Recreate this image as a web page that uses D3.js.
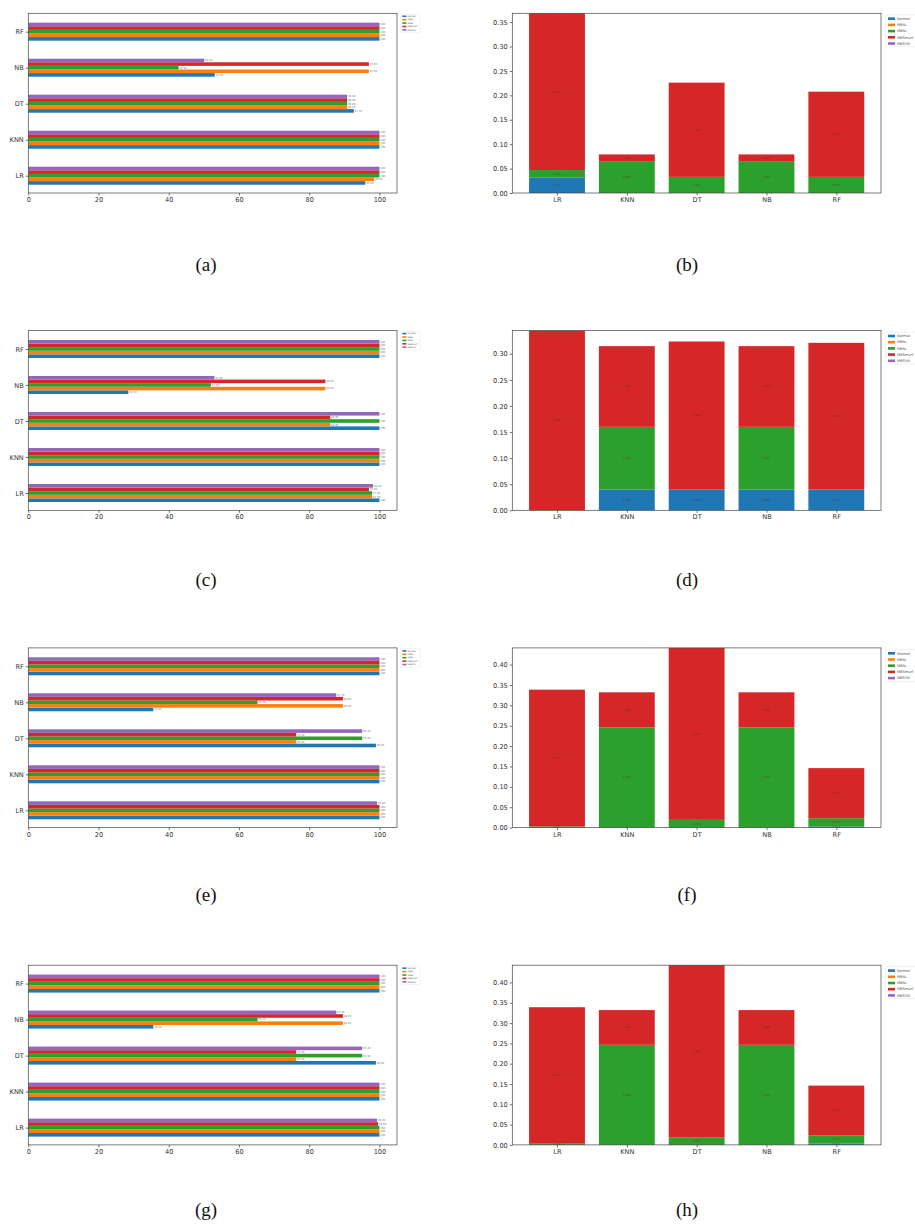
<!DOCTYPE html>
<html>
<head>
<meta charset="utf-8">
<script src="https://cdn.jsdelivr.net/npm/d3@7"></script>
<style>
  body { margin: 0; background: #fff; }
  svg { display: block; }
</style>
</head>
<body>
<svg id="fig" width="915" height="1226"></svg>
<script>
// ---- data -------------------------------------------------------------
const models = ["LR", "KNN", "DT", "NB", "RF"];
const seriesNames = ["Normal", "MBN\u2081", "MBN\u2082", "MBSmurf", "MBSYN"];
const seriesColors = ["#1f77b4", "#ff7f0e", "#2ca02c", "#d62728", "#9467bd"];
const accTicks = [0, 20, 40, 60, 80, 100];
const captionsLeft = ["(a)", "(c)", "(e)", "(g)"];
const captionsRight = ["(b)", "(d)", "(f)", "(h)"];

// accuracy (%) per series; each row follows the model order LR, KNN, DT, NB, RF
const accA = [
  [96.0, 100, 92.7, 53.1, 100],
  [98.5, 100, 90.8, 97.0, 100],
  [100, 100, 90.8, 42.8, 100],
  [100, 100, 90.8, 97.0, 100],
  [100, 100, 90.8, 50.1, 100]
];
const accC = [
  [100, 100, 100, 28.5, 100],
  [97.9, 100, 86.0, 84.6, 100],
  [97.9, 100, 100, 52.0, 100],
  [97.0, 100, 86.0, 84.6, 100],
  [98.2, 100, 100, 53.0, 100]
];
const accE = [
  [100, 100, 99.0, 35.6, 100],
  [100, 100, 76.3, 89.6, 100],
  [100, 100, 95.1, 65.3, 100],
  [100, 100, 76.3, 89.6, 100],
  [99.3, 100, 95.1, 87.7, 100]
];
const accG = [
  [100, 100, 99.0, 35.6, 100],
  [100, 100, 76.3, 89.6, 100],
  [100, 100, 95.1, 65.3, 100],
  [99.6, 100, 76.3, 89.6, 100],
  [99.3, 100, 95.1, 87.7, 100]
];

// error-rate contribution per series (stacked), same model order
const errB = [
  [0.032, 0, 0, 0, 0],
  [0, 0, 0, 0, 0],
  [0.015, 0.064, 0.033, 0.064, 0.033],
  [0.321, 0.015, 0.193, 0.015, 0.1745],
  [0, 0, 0, 0, 0]
];
const errD = [
  [0, 0.040, 0.040, 0.040, 0.040],
  [0, 0, 0, 0, 0],
  [0, 0.120, 0, 0.120, 0],
  [0.3445, 0.1547, 0.2836, 0.1547, 0.281],
  [0, 0, 0, 0, 0]
];
const errF = [
  [0, 0, 0, 0, 0.003],
  [0, 0, 0, 0, 0],
  [0.003, 0.246, 0.019, 0.246, 0.020],
  [0.3355, 0.086, 0.422, 0.086, 0.123],
  [0, 0, 0, 0, 0]
];
const errH = [
  [0, 0, 0, 0, 0.003],
  [0, 0, 0, 0, 0],
  [0.003, 0.2465, 0.018, 0.2465, 0.0207],
  [0.336, 0.0855, 0.4245, 0.0855, 0.1223],
  [0, 0, 0, 0, 0]
];

const leftPanels = [accA, accC, accE, accG];
const rightPanels = [errB, errD, errF, errH];

// ---- layout -----------------------------------------------------------
const rowTops = [13.3, 330.6, 647.9, 965.2];
const axH = 179.7;
const L = { x0: 28.3, x1: 397 };
const R = { x0: 512.3, x1: 881 };
const capCx = [206, 687];
const capCy = [264, 579, 894, 1209];

const svg = d3.select("#fig");
const fmtVal = v => (v === 100 ? "100" : d3.format(".2f")(v));

function styleAxis(g, size) {
  g.select(".domain").remove();
  g.selectAll(".tick line").attr("stroke", "#333").attr("stroke-width", 0.7);
  g.selectAll(".tick text")
    .attr("fill", "#333")
    .style("font-family", "'DejaVu Sans', sans-serif")
    .style("font-size", size + "px");
}

function drawAccuracy(data, top) {
  const g = svg.append("g");
  const x = d3.scaleLinear().domain([0, 105]).range([L.x0, L.x1]);
  const y = d3.scaleLinear().domain([-0.48, 4.51]).range([top + axH, top]);
  const bh = 0.1;

  data.forEach((row, s) => {
    row.forEach((v, m) => {
      const c = m - 0.2 + s * bh;
      g.append("rect")
        .attr("x", x(0))
        .attr("y", y(c + bh / 2))
        .attr("width", x(v) - x(0))
        .attr("height", y(c - bh / 2) - y(c + bh / 2))
        .attr("fill", seriesColors[s]);
      g.append("text")
        .attr("x", x(v) + 0.8)
        .attr("y", y(c))
        .attr("dy", "0.35em")
        .attr("fill", "#777")
        .style("font-family", "'DejaVu Sans', sans-serif")
        .style("font-size", "2.6px")
        .text(fmtVal(v));
    });
  });

  g.append("g")
    .attr("transform", `translate(0,${top + axH})`)
    .call(d3.axisBottom(x).tickValues(accTicks).tickSize(2.5).tickPadding(2))
    .call(a => styleAxis(a, 6.6));
  g.append("g")
    .attr("transform", `translate(${L.x0},0)`)
    .call(d3.axisLeft(y).tickValues(d3.range(models.length))
      .tickFormat(i => models[i]).tickSize(2.5).tickPadding(2))
    .call(a => styleAxis(a, 6.6));

  g.append("rect")
    .attr("x", L.x0).attr("y", top)
    .attr("width", L.x1 - L.x0).attr("height", axH)
    .attr("fill", "none").attr("stroke", "#444").attr("stroke-width", 0.7);

  // legend
  const lg = g.append("g").attr("transform", `translate(401,${top + 0.8})`);
  lg.append("rect").attr("width", 19).attr("height", 18.5)
    .attr("fill", "#fff").attr("stroke", "#ddd").attr("stroke-width", 0.4).attr("rx", 0.6);
  seriesNames.forEach((n, i) => {
    lg.append("rect").attr("x", 1.4).attr("y", 1.4 + i * 3.4)
      .attr("width", 4).attr("height", 1.6).attr("fill", seriesColors[i]);
    lg.append("text").attr("x", 6.6).attr("y", 2.2 + i * 3.4).attr("dy", "0.35em")
      .attr("fill", "#555")
      .style("font-family", "'DejaVu Sans', sans-serif")
      .style("font-size", "2.2px").text(n);
  });
}

function drawErrors(data, top) {
  const g = svg.append("g");
  const rows = models.map((m, i) => {
    const o = { model: m, idx: i };
    data.forEach((r, s) => { o["s" + s] = r[i]; });
    return o;
  });
  const keys = data.map((_, s) => "s" + s);
  const stacked = d3.stack().keys(keys)(rows);
  const maxTotal = d3.max(stacked[stacked.length - 1], d => d[1]);

  const x = d3.scaleLinear().domain([-0.64, 4.64]).range([R.x0, R.x1]);
  const y = d3.scaleLinear().domain([0, maxTotal]).range([top + axH, top]);
  const bw = 0.8;

  stacked.forEach((layer, s) => {
    layer.forEach((d, i) => {
      const h = d[1] - d[0];
      if (h <= 0) return;
      g.append("rect")
        .attr("x", x(i - bw / 2))
        .attr("y", y(d[1]))
        .attr("width", x(i + bw / 2) - x(i - bw / 2))
        .attr("height", y(d[0]) - y(d[1]))
        .attr("fill", seriesColors[s]);
    });
  });
  // centred value labels in each segment
  stacked.forEach((layer) => {
    layer.forEach((d, i) => {
      const h = d[1] - d[0];
      if (h <= 0) return;
      g.append("text")
        .attr("x", x(i)).attr("y", y((d[0] + d[1]) / 2)).attr("dy", "0.35em")
        .attr("text-anchor", "middle").attr("fill", "#5a1a1a").attr("opacity", 0.6)
        .style("font-family", "'DejaVu Sans', sans-serif")
        .style("font-size", "2.6px")
        .text(d3.format(".3f")(h));
    });
  });

  const yTicks = d3.range(0, maxTotal + 1e-9, 0.05);
  g.append("g")
    .attr("transform", `translate(0,${top + axH})`)
    .call(d3.axisBottom(x).tickValues(d3.range(models.length))
      .tickFormat(i => models[i]).tickSize(2.5).tickPadding(2))
    .call(a => styleAxis(a, 6.6));
  g.append("g")
    .attr("transform", `translate(${R.x0},0)`)
    .call(d3.axisLeft(y).tickValues(yTicks).tickFormat(d3.format(".2f"))
      .tickSize(2.5).tickPadding(2))
    .call(a => styleAxis(a, 6.6));

  g.append("rect")
    .attr("x", R.x0).attr("y", top)
    .attr("width", R.x1 - R.x0).attr("height", axH)
    .attr("fill", "none").attr("stroke", "#444").attr("stroke-width", 0.7);

  // legend
  const lg = g.append("g").attr("transform", `translate(886,${top + 1.5})`);
  lg.append("rect").attr("width", 34).attr("height", 32)
    .attr("fill", "#fff").attr("stroke", "#ddd").attr("stroke-width", 0.4).attr("rx", 0.8);
  seriesNames.forEach((n, i) => {
    lg.append("rect").attr("x", 2).attr("y", 2.6 + i * 6.2)
      .attr("width", 7).attr("height", 2.6).attr("fill", seriesColors[i]);
    lg.append("text").attr("x", 11).attr("y", 3.9 + i * 6.2).attr("dy", "0.35em")
      .attr("fill", "#555")
      .style("font-family", "'DejaVu Sans', sans-serif")
      .style("font-size", "3.6px").text(n);
  });
}

leftPanels.forEach((d, r) => drawAccuracy(d, rowTops[r]));
rightPanels.forEach((d, r) => drawErrors(d, rowTops[r]));

// sub-figure captions
capCy.forEach((cy, r) => {
  [captionsLeft[r], captionsRight[r]].forEach((c, k) => {
    svg.append("text")
      .attr("x", capCx[k]).attr("y", cy)
      .attr("dy", "0.35em")
      .attr("text-anchor", "middle")
      .attr("fill", "#111")
      .style("font-family", "'Liberation Serif', 'DejaVu Serif', serif")
      .style("font-size", "19px")
      .text(c);
  });
});
</script>
</body>
</html>
